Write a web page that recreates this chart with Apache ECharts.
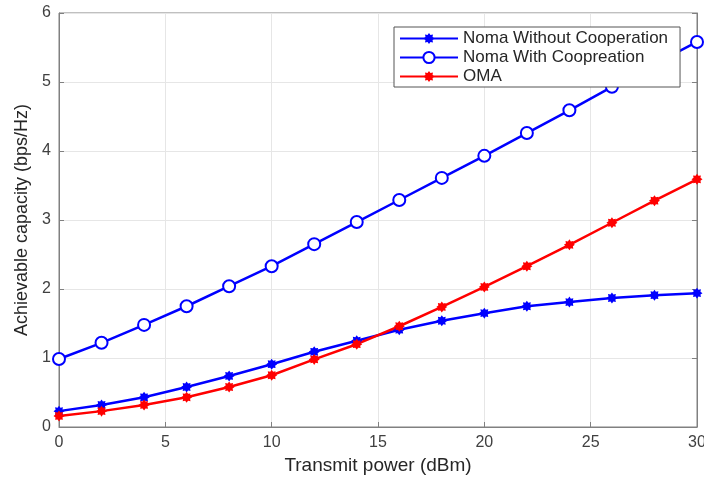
<!DOCTYPE html>
<html>
<head>
<meta charset="utf-8">
<script src="https://cdn.jsdelivr.net/npm/echarts@6/dist/echarts.min.js"></script>
<style>
  html, body { margin: 0; padding: 0; background: #fff; }
  #chart { width: 704px; height: 478px; }
</style>
</head>
<body>
<div id="chart"></div>
<script>
// transmit power (dBm)
const power = [0, 2, 4, 6, 8, 10, 12, 14, 16, 18, 20, 22, 24, 26, 28, 30]
// capacity values
const nomaWithout = [0.23, 0.32, 0.43, 0.58, 0.74, 0.91, 1.09, 1.25, 1.41, 1.54, 1.65, 1.75, 1.81, 1.87, 1.91, 1.94]
const nomaWith = [0.985, 1.22, 1.48, 1.75, 2.04, 2.33, 2.65, 2.97, 3.29, 3.61, 3.93, 4.26, 4.59, 4.93, 5.26, 5.58]
const oma = [0.16, 0.23, 0.32, 0.43, 0.58, 0.75, 0.98, 1.20, 1.46, 1.74, 2.03, 2.33, 2.64, 2.96, 3.28, 3.59]

const FONT = 'Liberation Sans, Arial, sans-serif'
// asterisk-like marker (filled star)
const STAR = 'path://M0,-10 L2.6,-6.3 L7.1,-7.1 L6.3,-2.6 L10,0 L6.3,2.6 L7.1,7.1 L2.6,6.3 L0,10 L-2.6,6.3 L-7.1,7.1 L-6.3,2.6 L-10,0 L-6.3,-2.6 L-7.1,-7.1 L-2.6,-6.3 Z'

const pairs = (ys) => power.map((x, i) => [x, ys[i]])

const chart = echarts.init(document.getElementById('chart'))

const axisCommon = {
  axisLine: { show: true, lineStyle: { color: '#808080', width: 1 } },
  axisTick: { show: true, inside: true, length: 5, lineStyle: { color: '#808080' } },
  axisLabel: { color: '#404040', fontSize: 16, fontFamily: FONT },
  splitLine: { show: true, lineStyle: { color: '#e6e6e6', width: 1 } }
}

chart.setOption({
  animation: false,
  backgroundColor: '#fff',
  grid: {
    left: 59, right: 7, top: 13, bottom: 51,
    outerBoundsMode: 'none',
    show: true, borderColor: '#808080', borderWidth: 1
  },
  xAxis: {
    type: 'value', min: 0, max: 30, interval: 5,
    name: 'Transmit power (dBm)', nameLocation: 'middle', nameGap: 28,
    nameTextStyle: { color: '#262626', fontSize: 19, fontFamily: FONT },
    ...axisCommon,
    axisLabel: { ...axisCommon.axisLabel, margin: 8 }
  },
  yAxis: [{
    type: 'value', min: 0, max: 6, interval: 1,
    name: 'Achievable capacity (bps/Hz)', nameLocation: 'middle', nameGap: 28,
    nameTextStyle: { color: '#262626', fontSize: 18, fontFamily: FONT },
    ...axisCommon,
    axisLabel: { ...axisCommon.axisLabel, margin: 8 }
  }, {
    type: 'value', min: 0, max: 6, interval: 1, position: 'right',
    axisLine: { show: true, lineStyle: { color: '#808080' } },
    axisTick: { show: true, inside: true, length: 5, lineStyle: { color: '#808080' } },
    axisLabel: { show: false },
    splitLine: { show: false }
  }],
  legend: {
    orient: 'vertical', left: 394, top: 27,
    backgroundColor: '#fff', borderColor: '#555', borderWidth: 1,
    padding: [3, 12, 2, 5], itemGap: 2, itemWidth: 58, itemHeight: 14,
    textStyle: { color: '#262626', fontSize: 17, fontFamily: FONT }
  },
  series: [{
    name: 'Noma Without Cooperation', type: 'line', data: pairs(nomaWithout),
    color: '#0000ff', symbol: STAR, symbolSize: 11,
    lineStyle: { width: 2.5 }, itemStyle: { color: '#0000ff' }
  }, {
    name: 'Noma With Coopreation', type: 'line', data: pairs(nomaWith),
    color: '#0000ff', symbol: 'emptyCircle', symbolSize: 12,
    lineStyle: { width: 2.5 }, itemStyle: { color: '#0000ff', borderWidth: 2 }
  }, {
    name: 'OMA', type: 'line', data: pairs(oma),
    color: '#ff0000', symbol: STAR, symbolSize: 11,
    lineStyle: { width: 2.5 }, itemStyle: { color: '#ff0000' }
  }]
})
</script>
</body>
</html>
